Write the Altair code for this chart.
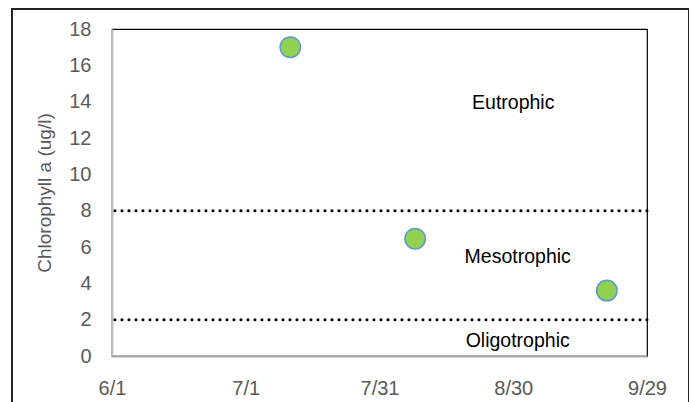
import altair as alt
import pandas as pd

# Data
sample_dates = ["2023-07-11", "2023-08-08", "2023-09-20"]
chl_values = [17.0, 6.45, 3.6]

threshold_values = [8, 2]

label_texts = ["Eutrophic", "Mesotrophic", "Oligotrophic"]
label_dates = ["2023-08-30", "2023-08-31", "2023-08-31"]
label_values = [13.9, 5.45, 0.83]

tick_dates = ["2023-06-01", "2023-07-01", "2023-07-31", "2023-08-30", "2023-09-29"]
y_ticks = list(range(0, 19, 2))

FONT = "Liberation Sans"

pts = pd.DataFrame({"date": sample_dates, "chl": chl_values})
thr = pd.DataFrame({"v": threshold_values})
lbl = pd.DataFrame({"text": label_texts, "date": label_dates, "chl": label_values})
frame = pd.DataFrame({"k": [0]})


def dt(s):
    y, m, d = map(int, s.split("-"))
    return alt.DateTime(year=y, month=m, date=d, utc=True)


x_scale = alt.Scale(type="utc", domain=[dt(tick_dates[0]), dt(tick_dates[-1])])
y_scale = alt.Scale(domain=[0, 18])

x_axis = alt.Axis(
    values=[dt(t) for t in tick_dates], format="%-m/%-d", title=None,
    grid=False, ticks=False, domainColor="#A6A6A6", domainWidth=2,
    labelPadding=22, labelColor="#595959", labelFontSize=20, labelFont=FONT,
    labelFlush=False, labelOverlap=False,
)
y_axis = alt.Axis(
    values=y_ticks, title="Chlorophyll a (ug/l)", grid=False, ticks=False,
    domainColor="#BFBFBF", domainWidth=2, labelPadding=21,
    labelColor="#595959", labelFontSize=20, labelFont=FONT,
    titleColor="#595959", titleFontSize=19, titleFont=FONT, titleFontWeight="normal",
    titlePadding=14, labelFlush=False,
)

outer = alt.Chart(frame).mark_rect(fillOpacity=0, stroke="#222222", strokeWidth=2).encode(
    x=alt.value(-100), x2=alt.value(577), y=alt.value(-20), y2=alt.value(420)
)

rules = alt.Chart(thr).mark_rule(
    color="black", strokeWidth=3, strokeDash=[0.1, 6.9], strokeCap="round"
).encode(y=alt.Y("v:Q", scale=y_scale, axis=y_axis))

points = alt.Chart(pts).mark_point(
    filled=True, shape="circle", size=420, fill="#92D050", stroke="#5B9BD5",
    strokeWidth=1.5, opacity=1,
).encode(
    x=alt.X("date:T", scale=x_scale, axis=x_axis),
    y=alt.Y("chl:Q", scale=y_scale, axis=y_axis),
)

labels = alt.Chart(lbl).mark_text(
    font=FONT, fontSize=19.5, color="black", align="center", baseline="middle"
).encode(
    x=alt.X("date:T", scale=x_scale, axis=x_axis),
    y=alt.Y("chl:Q", scale=y_scale, axis=y_axis),
    text="text:N",
)

chart = alt.layer(outer, rules, points, labels).properties(
    width=535, height=327,
    autosize=alt.AutoSizeParams(type="none"),
    padding={"left": 104, "top": 21, "right": 42, "bottom": 60},
).configure_view(stroke="black", strokeWidth=1.2)

chart.save("out.html", embed_options={"renderer": "svg", "actions": False})
